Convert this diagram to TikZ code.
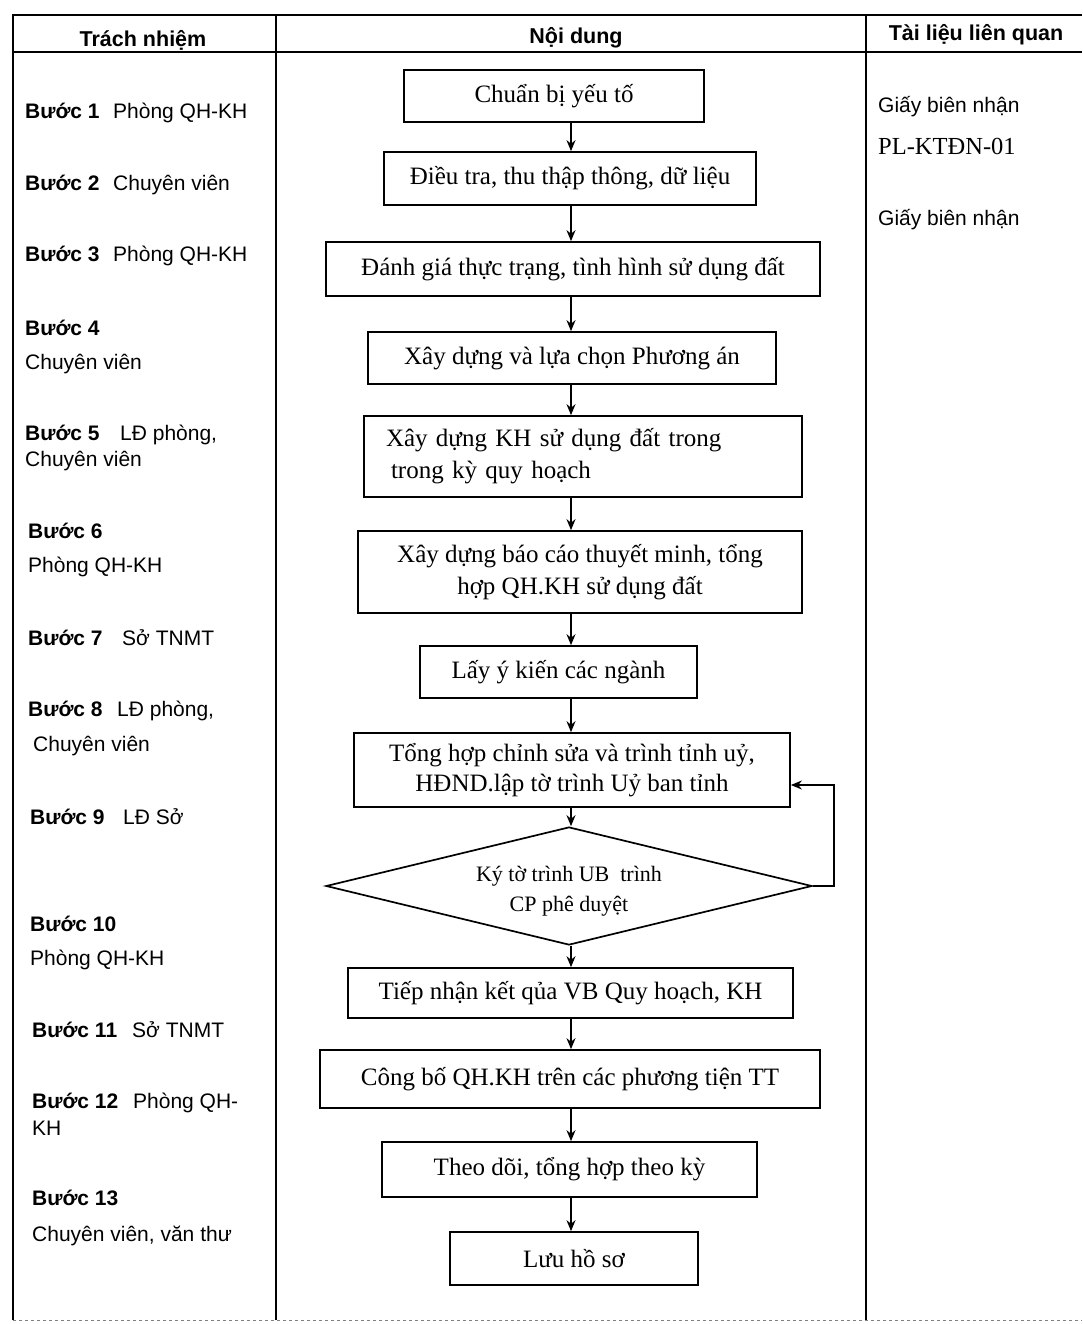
\documentclass[tikz,border=0pt]{standalone}
\usepackage{fontspec}
\setmainfont{Liberation Serif}
\newfontfamily\sansf{Liberation Sans}
\usetikzlibrary{shapes.geometric,arrows.meta,calc}
\newcommand{\bstep}[3]{\makebox[#1][l]{\textbf{#2}}#3}
\begin{document}
\begin{tikzpicture}[x=1pt,y=-1pt,
  grid/.style={line width=1.8pt,black},
  box/.style={draw,line width=1.7pt,inner sep=0pt,align=center,font=\fontsize{25}{32}\selectfont},
  dec/.style={draw,shape=diamond,aspect=4.1,line width=1.7pt,inner sep=0pt},
  dectext/.style={inner sep=0pt,align=center,font=\fontsize{22}{30}\selectfont},
  lt/.style={anchor=west,inner sep=0pt,font=\sansf\fontsize{21}{24}\selectfont},
  hd/.style={inner sep=0pt,font=\sansf\bfseries\fontsize{21.5}{24}\selectfont},
  arr/.style={line width=1.5pt,-{Stealth[length=11pt,width=9pt]}}]
\useasboundingbox (0,0) rectangle (1082,1324);
\fill[white] (0,0) rectangle (1082,1324);
% table
\draw[grid] (12,15) -- (1082,15);
\draw[grid] (12,52) -- (1082,52);
\draw[grid] (13,15) -- (13,1320);
\draw[grid] (276,15) -- (276,1320);
\draw[grid] (866,15) -- (866,1320);
\draw[line width=0.8pt,gray,dashed] (13,1320) -- (1082,1320);
% headers
\node[hd] (h1) at (143,40) {Trách nhiệm};
\node[hd] (h2) at (576,38) {Nội dung};
\node[hd] (h3) at (976,35) {Tài liệu liên quan};
% left column
\node[lt] (s1) at (25,113) {\bstep{88pt}{Bước 1}{Phòng QH-KH}};
\node[lt] (s2) at (25,185) {\bstep{88pt}{Bước 2}{Chuyên viên}};
\node[lt] (s3) at (25,256) {\bstep{88pt}{Bước 3}{Phòng QH-KH}};
\node[lt] (s4a) at (25,328) {\textbf{Bước 4}};
\node[lt] (s4b) at (25,364) {Chuyên viên};
\node[lt] (s5a) at (25,435) {\bstep{95pt}{Bước 5}{LĐ phòng,}};
\node[lt] (s5b) at (25,461) {Chuyên viên};
\node[lt] (s6a) at (28,531) {\textbf{Bước 6}};
\node[lt] (s6b) at (28,567) {Phòng QH-KH};
\node[lt] (s7) at (28,638) {\bstep{94pt}{Bước 7}{Sở TNMT}};
\node[lt] (s8a) at (28,711) {\bstep{89pt}{Bước 8}{LĐ phòng,}};
\node[lt] (s8b) at (33,746) {Chuyên viên};
\node[lt] (s9) at (30,817) {\bstep{93pt}{Bước 9}{LĐ Sở}};
\node[lt] (s10a) at (30,924) {\textbf{Bước 10}};
\node[lt] (s10b) at (30,960) {Phòng QH-KH};
\node[lt] (s11) at (32,1030) {\bstep{100pt}{Bước 11}{Sở TNMT}};
\node[lt] (s12a) at (32,1103) {\bstep{101pt}{Bước 12}{Phòng QH-}};
\node[lt] (s12b) at (32,1128) {KH};
\node[lt] (s13a) at (32,1198) {\textbf{Bước 13}};
\node[lt] (s13b) at (32,1236) {Chuyên viên, văn thư};
% right column
\node[lt] (r1) at (878,107) {Giấy biên nhận};
\node[anchor=west,inner sep=0pt,font=\fontsize{24.5}{26}\selectfont] (r2) at (878,146) {PL-KTĐN-01};
\node[lt] (r3) at (878,220) {Giấy biên nhận};
% flow
\coordinate (ax) at (571,0);
\node[box,minimum width=300pt,minimum height=52pt] (b1) at (554,96) {Chuẩn bị yếu tố};
\node[box,minimum width=372pt,minimum height=53pt] (b2) at (570,178.5) {Điều tra, thu thập thông, dữ liệu};
\node[box,minimum width=494pt,minimum height=54pt] (b3) at (573,269) {Đánh giá thực trạng, tình hình sử dụng đất};
\node[box,minimum width=408pt,minimum height=52pt] (b4) at (572,358) {Xây dựng và lựa chọn Phương án};
\node[box,minimum height=81pt,text width=394pt,inner xsep=22pt,align=left] (b5) at (583,456.5) {Xây dựng KH sử dụng đất trong\\\hspace*{5pt}trong kỳ quy hoạch};
\node[box,minimum width=444pt,minimum height=82pt] (b6) at (580,572) {Xây dựng báo cáo thuyết minh, tổng\\hợp QH.KH sử dụng đất};
\node[box,minimum width=277pt,minimum height=52pt] (b7) at (558.5,672) {Lấy ý kiến các ngành};
\node[box,minimum width=436pt,minimum height=74pt] (b8) at (572,770) {Tổng hợp chỉnh sửa và trình tỉnh uỷ,\\[-2pt]HĐND.lập tờ trình Uỷ ban tỉnh};
\node[dec,minimum width=486pt,minimum height=118pt] (d9) at (569,886) {};
\node[dectext] (d9t) at (569,891) {Ký tờ trình UB\ \ trình\\CP phê duyệt};
\node[box,minimum width=445pt,minimum height=50pt] (b10) at (570.5,993) {Tiếp nhận kết qủa VB Quy hoạch, KH};
\node[box,minimum width=500pt,minimum height=58pt] (b11) at (570,1079) {Công bố QH.KH trên các phương tiện TT};
\node[box,minimum width=375pt,minimum height=55pt] (b12) at (569.5,1169.5) {Theo dõi, tổng hợp theo kỳ};
\node[box,minimum width=248pt,minimum height=53pt] (b13) at (574,1258.5) {Lưu hồ sơ};
% arrows
\foreach \a/\b in {b1/b2,b2/b3,b3/b4,b4/b5,b5/b6,b6/b7,b7/b8,b8/d9,d9/b10,b10/b11,b11/b12,b12/b13}
  \draw[arr] (\a.south -| ax) -- (\b.north -| ax);
\draw[arr] (d9.east) -- ++(21,0) |- ([yshift=-15pt]b8.east);
\end{tikzpicture}
\end{document}
